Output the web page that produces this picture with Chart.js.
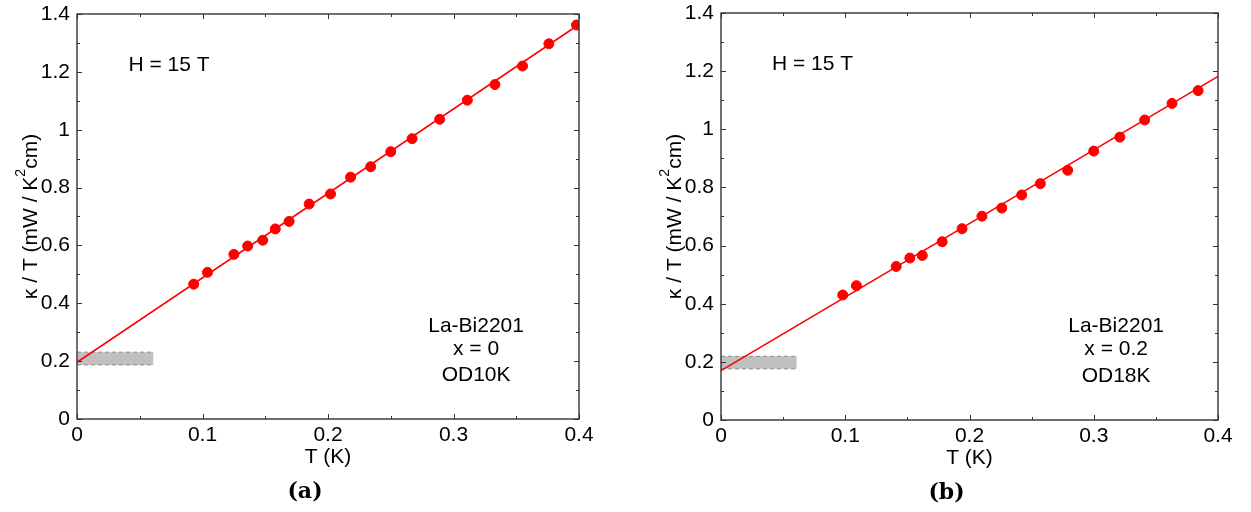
<!DOCTYPE html>
<html>
<head>
<meta charset="utf-8">
<script src="https://cdn.jsdelivr.net/npm/chart.js@4/dist/chart.umd.min.js"></script>
<style>
body{margin:0;background:#fff;width:1251px;height:512px;overflow:hidden;position:relative}
canvas{position:absolute;top:0}
#ca{left:0}
#cb{left:640px}
</style>
</head>
<body>
<canvas id="ca" width="625" height="512"></canvas>
<canvas id="cb" width="611" height="512"></canvas>
<script>

// panel (a), x = 0
const tA = [0.093,0.104,0.125,0.136,0.148,0.158,0.169,0.185,0.202,0.218,0.234,0.250,0.267,0.289,0.311,0.333,0.355,0.376,0.398]
const kA = [0.466,0.507,0.569,0.598,0.618,0.657,0.683,0.743,0.778,0.836,0.872,0.924,0.969,1.036,1.102,1.156,1.220,1.297,1.362]

// panel (b), x = 0.2
const tB = [0.098,0.109,0.141,0.152,0.162,0.178,0.194,0.210,0.226,0.242,0.257,0.279,0.300,0.321,0.341,0.363,0.384]
const kB = [0.430,0.462,0.528,0.557,0.566,0.613,0.658,0.701,0.729,0.774,0.813,0.859,0.925,0.973,1.032,1.089,1.133]

// linear fits and residual bands
const fitT = [0, 0.4]
const fitA = [0.196, 1.364]
const fitB = [0.170, 1.182]
const bandT = [0, 0.061]
const bandA = [0.187, 0.231]
const bandB = [0.176, 0.219]

const xTicks = [0, 0.1, 0.2, 0.3, 0.4]
const yTicks = [0, 0.2, 0.4, 0.6, 0.8, 1, 1.2, 1.4]

const fieldLabel = "H = 15 T"
const sampleA = ["La-Bi2201", "x = 0", "OD10K"]
const sampleB = ["La-Bi2201", "x = 0.2", "OD18K"]

const FONT = "'Liberation Sans', Arial, sans-serif"
const FS = 21

function pts(xs, ys) {
return xs.map((v,i)=>({x:v, y:ys[i]}))
}

const extras = {

id: "extras",

afterDatasetsDraw(chart) {

const o = chart.options.plugins.extras
const ctx = chart.ctx
const a = chart.chartArea
const x = chart.scales.x
const y = chart.scales.y

ctx.save()
ctx.strokeStyle = "#333"
ctx.lineWidth = 1

for (let i = 0; i <= 8; i++) {
const px = Math.round(x.getPixelForValue(i * 0.05)) + 0.5
const len = i % 2 ? 3 : 5
ctx.beginPath()
ctx.moveTo(px, a.bottom); ctx.lineTo(px, a.bottom - len)
ctx.moveTo(px, a.top); ctx.lineTo(px, a.top + len)
ctx.stroke()
}

for (let i = 0; i <= 14; i++) {
const py = Math.round(y.getPixelForValue(i * 0.1)) + 0.5
const len = i % 2 ? 3 : 5
ctx.beginPath()
ctx.moveTo(a.left, py); ctx.lineTo(a.left + len, py)
ctx.moveTo(a.right, py); ctx.lineTo(a.right - len, py)
ctx.stroke()
}

ctx.lineWidth = 1.4
ctx.strokeRect(a.left, a.top, a.width, a.height)

ctx.fillStyle = "#000"
ctx.font = FS + "px " + FONT
ctx.textBaseline = "middle"

ctx.textAlign = "left"
ctx.fillText(fieldLabel, x.getPixelForValue(0.041), y.getPixelForValue(1.224))

ctx.textAlign = "center"
const ly = [0.321, 0.242, 0.152]
o.sample.forEach((s,i)=>{
ctx.fillText(s, x.getPixelForValue(0.318), y.getPixelForValue(ly[i]))
})

const mid = (a.left + a.right) / 2
ctx.fillText("T (K)", mid, a.bottom + 38)

ctx.font = "bold 22px 'DejaVu Serif', 'Liberation Serif', serif"
ctx.fillText(o.tag, mid - 23, a.bottom + 73)

// y title with superscript
ctx.font = FS + "px " + FONT
const p1 = "κ / T (mW / K"
const p2 = "2"
const p3 = "cm)"
const w1 = ctx.measureText(p1).width
const w3 = ctx.measureText(p3).width
ctx.font = "14px " + FONT
const w2 = ctx.measureText(p2).width
const total = w1 + w2 + w3
ctx.translate(a.left - 46, y.getPixelForValue(0.7))
ctx.rotate(-Math.PI / 2)
ctx.textAlign = "left"
ctx.font = FS + "px " + FONT
ctx.fillText(p1, -total/2, 0)
ctx.font = "14px " + FONT
ctx.fillText(p2, -total/2 + w1, -10)
ctx.font = FS + "px " + FONT
ctx.fillText(p3, -total/2 + w1 + w2, 0)

ctx.restore()

}

}

function makePanel(id, t, k, fit, band, sample, tag, pad) {

const ctx = document.getElementById(id).getContext("2d")

return new Chart(ctx, {

type: "scatter",

data: {

datasets: [

{
data: pts(t, k),
backgroundColor: "#ff0000",
borderColor: "#ff0000",
pointRadius: 5,
pointHoverRadius: 5,
clip: 0
},

{
data: pts(fitT, fit),
showLine: true,
borderColor: "#ff0000",
borderWidth: 1.6,
pointRadius: 0
},

{
data: pts(bandT, [band[1], band[1]]),
showLine: true,
borderColor: "#8c8c8c",
borderWidth: 1,
borderDash: [4,3],
pointRadius: 0
},

{
data: pts(bandT, [band[0], band[0]]),
showLine: true,
borderColor: "#8c8c8c",
borderWidth: 1,
borderDash: [4,3],
pointRadius: 0,
fill: "-1",
backgroundColor: "#c0c0c0"
}

]

},

options: {

responsive: false,
animation: false,
events: [],

layout: {
padding: {left: 0, top: pad.top, right: pad.right, bottom: 0}
},

plugins: {
legend: {display: false},
tooltip: {enabled: false},
extras: {sample: sample, tag: tag}
},

scales: {

x: {
type: "linear",
min: 0,
max: 0.4,
afterBuildTicks: s => { s.ticks = xTicks.map(v=>({value:v})) },
grid: {display: false, drawTicks: false},
border: {display: false},
ticks: {
color: "#000",
padding: 4,
font: {family: FONT, size: FS},
callback: v => String(Number(v.toFixed(2)))
},
afterFit: s => { s.height = pad.xh; s.paddingLeft = 0; s.paddingRight = 0 }
},

y: {
type: "linear",
min: 0,
max: 1.4,
afterBuildTicks: s => { s.ticks = yTicks.map(v=>({value:v})) },
grid: {display: false, drawTicks: false},
border: {display: false},
ticks: {
color: "#000",
padding: 7,
font: {family: FONT, size: FS},
callback: v => String(Number(v.toFixed(2)))
},
afterFit: s => { s.width = pad.left; s.paddingTop = 0; s.paddingBottom = 0 }
}

}

},

plugins: [extras]

})

}

makePanel("ca", tA, kA, fitA, bandA, sampleA, "(a)", {top: 14, right: 46, left: 77, xh: 93})
makePanel("cb", tB, kB, fitB, bandB, sampleB, "(b)", {top: 13, right: 33, left: 81, xh: 92})

</script>
</body>
</html>
